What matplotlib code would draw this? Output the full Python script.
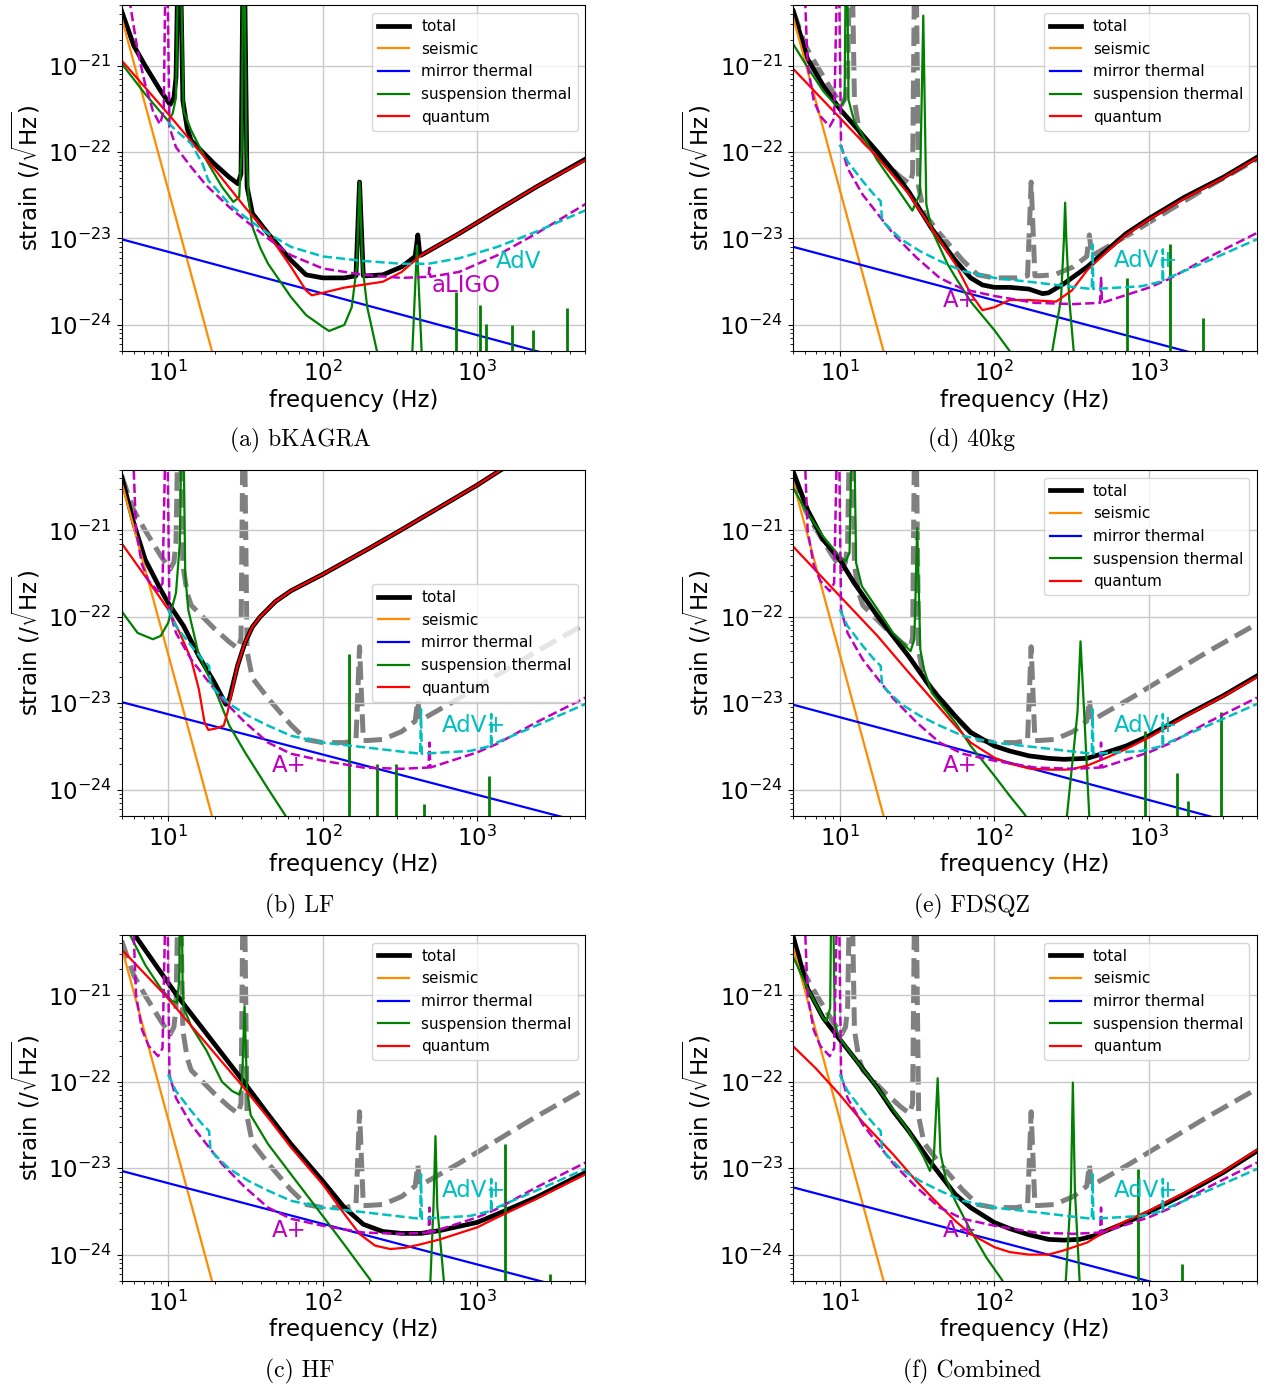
import matplotlib
matplotlib.use("Agg")
import matplotlib.pyplot as plt

# ---------------- shared curves ----------------
SEISMIC = [(5, 3.6e-21), (20, 3.8e-25)]

# bKAGRA (a) -- its total is also the grey reference in (b)-(f)
BK_TOTAL = [(5, 4.3e-21), (6.0, 1.7e-21), (7.1, 1.0e-21), (8.94, 5.1e-22), (10.3, 3.55e-22),
            (10.9, 4.3e-22), (11.24, 7.3e-22), (11.8, 1e-19), (12.45, 3.95e-22), (13.3, 1.86e-22),
            (14.1, 1.36e-22), (19.9, 7.3e-23), (24.9, 5.1e-23), (28.3, 4.3e-23), (29.6, 5.6e-23),
            (30.8, 1e-19), (32.4, 3.95e-23), (35.1, 1.95e-23), (44.3, 1.14e-23), (62.3, 5.6e-24),
            (78, 3.8e-24), (100, 3.5e-24), (138, 3.5e-24), (164, 3.7e-24), (173, 4.5e-23),
            (183, 3.7e-24), (194, 3.7e-24), (245, 3.8e-24), (324, 4.7e-24), (396, 6.2e-24),
            (412, 1.1e-23), (425, 6.4e-24), (433, 6.4e-24), (762, 1.14e-23), (1349, 2.12e-23),
            (2405, 3.95e-23), (5000, 8.3e-23)]
BK_QUANTUM = [(5, 1.15e-21), (10, 2.77e-22), (19.9, 6.4e-23), (31.4, 2.3e-23), (44.3, 1.14e-23),
              (62.3, 4.7e-24), (78, 2.5e-24), (85, 2.2e-24), (100, 2.35e-24), (138, 2.7e-24),
              (245, 3.16e-24), (324, 4.1e-24), (433, 6.4e-24), (762, 1.14e-23), (1349, 2.12e-23),
              (2405, 3.95e-23), (5000, 8.1e-23)]
BK_SUSP = [(5, 1.06e-21), (7.1, 4.7e-22), (8.94, 2.9e-22), (10, 2.3e-22), (10.7, 2.8e-22),
           (11.24, 4.3e-22), (11.8, 1e-19), (12.6, 3.0e-22), (14.1, 1.78e-22), (17.7, 8e-23),
           (22.3, 3.95e-23), (26.4, 2.65e-23), (28.8, 3.0e-23), (29.9, 1.05e-22), (30.8, 1e-19),
           (32.1, 1.05e-22), (33.2, 2.77e-23), (35.1, 1.36e-23), (39.4, 7.8e-24), (44.3, 5.1e-24),
           (62.3, 2.1e-24), (78, 1.3e-24), (100, 9.5e-25), (110, 8.5e-25), (138, 1.0e-24),
           (154, 1.6e-24), (166, 4.7e-24), (173, 4.5e-23), (181, 4.7e-24), (194, 1.6e-24),
           (224, 5e-25), (300, 2e-25), (380, 5e-25), (407, 8.3e-24), (436, 5e-25), (600, 1e-25)]
BK_PEAK_F = [728, 1042, 1143, 1664, 2277, 3803]
BK_PEAK_S = [2.4e-24, 1.7e-24, 1.02e-24, 1.0e-24, 8.7e-25, 1.55e-24]
BK_MIRROR = [(5, 9.8e-24), (5000, 3.5e-25)]

ALIGO = [(5.6, 6e-21), (6.35, 1.49e-21), (7.1, 6.1e-22), (7.97, 3.0e-22), (8.85, 2.1e-22),
         (9.36, 3.0e-22), (9.6, 1e-20), (9.9, 1e-20), (10.2, 1.94e-22), (11.24, 1.14e-22),
         (14.1, 6.7e-23), (17.7, 4.1e-23), (24.9, 2.3e-23), (31.4, 1.63e-23), (44.3, 1.0e-23),
         (62.3, 6.4e-24), (100, 4.5e-24), (183, 3.8e-24), (324, 3.5e-24), (483, 3.6e-24),
         (490, 4.6e-24), (497, 3.6e-24), (762, 4.1e-24), (1349, 6.4e-24), (2405, 1.14e-23),
         (5000, 2.5e-23)]
ADV = [(10, 2.2e-22), (11.24, 1.78e-22), (14.1, 1.25e-22), (16.7, 7.3e-23), (18.2, 4.7e-23),
       (19.9, 3.95e-23), (24.9, 2.5e-23), (31.4, 1.78e-23), (44.3, 1.14e-23), (62.3, 8.0e-24),
       (100, 6.2e-24), (183, 5.5e-24), (324, 5.1e-24), (483, 5.1e-24), (762, 5.9e-24),
       (1349, 8.0e-24), (2405, 1.2e-23), (5000, 2.12e-23)]
APLUS = [(5.9, 1e-20), (5.99, 5e-21), (6.2, 1.0e-21), (6.78, 4.0e-22), (7.49, 2.6e-22),
         (8.61, 1.98e-22), (9.2, 2.45e-22), (9.6, 1e-20), (9.9, 1e-20), (10.2, 1.2e-22),
         (11.24, 6.5e-23), (14.1, 3.2e-23), (17.7, 1.9e-23), (22.3, 1.12e-23), (31.4, 6.0e-24),
         (44.3, 3.5e-24), (62.3, 2.6e-24), (100, 2.16e-24), (183, 1.8e-24), (324, 1.74e-24),
         (483, 1.8e-24), (490, 3.5e-24), (497, 1.8e-24), (1000, 2.7e-24), (1349, 3.4e-24),
         (2405, 6.0e-24), (5000, 1.16e-23)]
ADVPLUS = [(10, 1.22e-22), (11.24, 7.8e-23), (14.1, 4.6e-23), (16.7, 3.2e-23), (18.4, 2.7e-23),
           (18.8, 1.6e-23), (19.9, 1.45e-23), (24.9, 9.8e-24), (33.2, 7.1e-24), (44.3, 5.5e-24),
           (62.3, 4.2e-24), (100, 3.5e-24), (183, 3.1e-24), (324, 2.75e-24), (427, 2.6e-24),
           (432, 8.5e-24), (437, 2.6e-24), (894, 2.8e-24), (1224, 3.2e-24), (1230, 7.5e-24),
           (1236, 3.3e-24), (2405, 5.5e-24), (5000, 9.8e-24)]

# ---------------- LF (b) ----------------
LF_TOTAL = [(5, 4.2e-21), (6.0, 1.2e-21), (7.1, 4.6e-22), (8.94, 2.07e-22), (10, 1.45e-22),
            (12.6, 7.8e-23), (15.8, 3.5e-23), (19.9, 1.74e-23), (23.6, 9.7e-24), (24.9, 1.12e-23),
            (28.1, 2.7e-23), (31.4, 5.0e-23), (35.0, 7.6e-23), (39.4, 1.0e-22), (49.4, 1.5e-22),
            (62.3, 2.0e-22), (100, 3.1e-22), (200, 6.2e-22), (318, 1.0e-21), (1000, 3.35e-21),
            (1416, 5.0e-21), (5000, 1.9e-20)]
LF_QUANTUM = [(5, 7.1e-22), (7.1, 2.95e-22), (10, 1.22e-22), (11.9, 6.5e-23), (14.1, 3.2e-23),
              (15.8, 1.45e-23), (17.2, 6.0e-24), (18.2, 4.9e-24), (20.4, 5.1e-24), (22.9, 5.5e-24),
              (24.2, 7.8e-24), (25.7, 1.3e-23), (28.1, 2.7e-23), (31.4, 5.0e-23), (35.0, 7.6e-23),
              (39.4, 1.0e-22), (49.4, 1.5e-22), (62.3, 2.0e-22), (100, 3.1e-22), (200, 6.2e-22),
              (318, 1.0e-21), (1000, 3.35e-21), (1416, 5.0e-21), (5000, 1.9e-20)]
LF_SUSP = [(5, 1.16e-22), (6.35, 6.5e-23), (7.97, 5.5e-23), (8.94, 6.0e-23), (10, 8.5e-23),
           (11.24, 1.9e-22), (11.9, 7.1e-22), (12.4, 1e-19), (12.9, 3.0e-22), (13.5, 1.2e-22),
           (15.8, 3.6e-23), (19.9, 1.5e-23), (24.9, 5.5e-24), (31.4, 2.7e-24), (44.3, 1.02e-24),
           (57, 5.1e-25), (80, 1.5e-25)]
LF_PEAK_F = [148, 226, 296, 449, 1196]
LF_PEAK_S = [3.7e-23, 2.0e-24, 2.0e-24, 6.8e-25, 1.45e-24]
LF_MIRROR = [(5, 1.03e-23), (5000, 4.1e-25)]

# ---------------- HF (c) ----------------
HF_TOTAL = [(5.5, 6.5e-21), (6.08, 5.0e-21), (11.4, 1.0e-21), (30.8, 1.0e-22), (44.3, 4.2e-23),
            (62.3, 1.9e-23), (100, 7.1e-24), (138, 3.5e-24), (183, 2.24e-24), (245, 1.85e-24),
            (324, 1.76e-24), (433, 1.76e-24), (573, 1.9e-24), (1000, 2.36e-24), (1349, 2.95e-24),
            (2405, 4.6e-24), (5000, 8.9e-24)]
HF_QUANTUM = [(5, 3.4e-21), (9.6, 1.0e-21), (28.7, 1.0e-22), (44.3, 3.85e-23), (62.3, 1.74e-23),
              (100, 6.5e-24), (138, 2.95e-24), (173, 1.73e-24), (218, 1.27e-24), (273, 1.16e-24),
              (343, 1.2e-24), (433, 1.32e-24), (573, 1.5e-24), (1000, 2.07e-24), (1349, 2.7e-24),
              (2405, 4.4e-24), (5000, 8.5e-24)]
HF_SUSP = [(5.5, 8e-21), (5.67, 5e-21), (7.1, 2.26e-21), (8.94, 1.21e-21), (10.6, 8.6e-22),
           (11.4, 8.2e-22), (11.8, 1.5e-21), (12.1, 1e-19), (12.4, 1.5e-21), (12.6, 7.2e-22),
           (14.1, 4.4e-22), (17.7, 2.3e-22), (22.3, 1.0e-22), (26.0, 7.8e-23), (28.9, 7.1e-23),
           (30.0, 9e-23), (31.2, 7.5e-22), (32.4, 8e-23), (34.2, 4.1e-23), (44.3, 1.9e-23),
           (62.3, 8.5e-24), (100, 2.8e-24), (138, 1.3e-24), (203, 5.1e-25), (300, 1.5e-25),
           (497, 5e-25), (520, 3.5e-24), (536, 2.35e-23), (551, 3.5e-24), (607, 5e-25),
           (800, 1.5e-25)]
HF_PEAK_F = [1510, 2960]
HF_PEAK_S = [1.9e-23, 5.9e-25]
HF_MIRROR = [(5, 9.3e-24), (5000, 3.6e-25)]

# ---------------- 40kg (d) ----------------
KG40_TOTAL = [(5, 4.3e-21), (6.19, 1.2e-21), (7.81, 5.9e-22), (10, 3.16e-22), (12.4, 2.04e-22),
              (17.55, 1.0e-22), (22.1, 6.1e-23), (27.9, 3.5e-23), (39.4, 1.3e-23), (55.8, 5.6e-24),
              (70.3, 3.5e-24), (83.7, 2.9e-24), (100, 2.72e-24), (125.5, 2.72e-24), (167, 2.6e-24),
              (205, 2.3e-24), (224, 2.35e-24), (282, 3.0e-24), (399, 4.7e-24), (533, 7.3e-24),
              (712, 1.14e-23), (1000, 1.7e-23), (1695, 3.0e-23), (3020, 5.1e-23), (5000, 8.7e-23)]
KG40_QUANTUM = [(5, 9.2e-22), (10, 2.5e-22), (17.55, 8.7e-23), (27.9, 3.3e-23), (39.4, 1.3e-23),
                (55.8, 5.1e-24), (70.3, 2.3e-24), (83.7, 1.48e-24), (100, 1.6e-24), (125.5, 1.94e-24),
                (167, 1.94e-24), (251, 1.86e-24), (317, 2.5e-24), (399, 4.3e-24), (533, 7.0e-24),
                (712, 1.1e-23), (1000, 1.66e-23), (1695, 2.9e-23), (3020, 5.0e-23), (5000, 8.5e-23)]
KG40_SUSP = [(5, 1.78e-21), (6.19, 9.6e-22), (7.81, 5.1e-22), (9.29, 3.6e-22), (10.12, 3.4e-22),
             (10.75, 4.0e-22), (11.04, 1e-19), (11.4, 4.0e-22), (12.4, 2.3e-22), (17.55, 8.0e-23),
             (24.8, 3.3e-23), (29.5, 2.1e-23), (33.0, 3.3e-23), (34.7, 3.8e-21), (36.3, 2.5e-23),
             (39.4, 1.25e-23), (49.7, 5.1e-24), (55.8, 3.6e-24), (70.3, 1.86e-24), (100, 8.7e-25),
             (125.5, 5e-25), (200, 1.5e-25), (237, 5e-25), (270, 2e-24), (282, 1.0e-23),
             (287, 2.6e-23), (292, 1.0e-23), (305, 2e-24), (326, 5e-25), (400, 1.5e-25)]
KG40_PEAK_F = [724, 1368, 2237]
KG40_PEAK_S = [3.45e-24, 8.7e-24, 1.2e-24]
KG40_MIRROR = [(5, 8.0e-24), (5000, 3.0e-25)]

# ---------------- FDSQZ (e) ----------------
FDSQZ_TOTAL = [(5, 4.8e-21), (6.19, 1.73e-21), (7.81, 7.8e-22), (10, 4.6e-22), (12.4, 2.46e-22),
               (17.55, 1.02e-22), (22.1, 6.0e-23), (27.9, 3.5e-23), (39.4, 1.45e-23), (55.8, 7.1e-24),
               (70.3, 4.6e-24), (100, 3.2e-24), (125.5, 2.8e-24), (167, 2.46e-24), (224, 2.3e-24),
               (282, 2.24e-24), (399, 2.3e-24), (533, 2.7e-24), (712, 3.2e-24), (1000, 4.2e-24),
               (1695, 7.1e-24), (3020, 1.22e-23), (5000, 2.07e-23)]
FDSQZ_QUANTUM = [(5, 6.5e-22), (10, 1.74e-22), (17.55, 6.0e-23), (27.9, 2.27e-23), (39.4, 1.12e-23),
                 (55.8, 5.5e-24), (70.3, 3.5e-24), (100, 2.34e-24), (125.5, 2.0e-24), (167, 1.76e-24),
                 (224, 1.7e-24), (282, 1.7e-24), (317, 1.72e-24), (399, 1.9e-24), (533, 2.34e-24),
                 (712, 2.95e-24), (1000, 4.0e-24), (1695, 6.9e-24), (3020, 1.2e-23), (5000, 2.0e-23)]
FDSQZ_SUSP = [(5, 3.1e-21), (6.19, 1.58e-21), (7.81, 8.5e-22), (10, 5.0e-22), (10.9, 4.4e-22),
              (11.57, 5.5e-22), (12.2, 1e-19), (12.76, 4.2e-22), (13.9, 2.26e-22), (17.55, 1.22e-22),
              (22.1, 6.5e-23), (28.7, 4.0e-23), (30.4, 5.5e-23), (31.7, 1.06e-21), (33.2, 4.2e-23),
              (35.1, 2.45e-23), (39.4, 1.32e-23), (55.8, 6.0e-24), (70.3, 3.2e-24), (100, 1.45e-24),
              (125.5, 8.5e-25), (158, 5.1e-25), (200, 2e-25), (295, 5e-25), (345, 7.8e-24),
              (361, 5.2e-23), (381, 7.8e-24), (411, 5e-25), (500, 2e-25)]
FDSQZ_PEAK_F = [950, 1528, 1796, 2937]
FDSQZ_PEAK_S = [4.8e-24, 1.55e-24, 7.4e-25, 7.9e-24]
FDSQZ_MIRROR = [(5, 9.6e-24), (5000, 3.5e-25)]

# ---------------- Combined (f) ----------------
COMB_TOTAL = [(5, 4.8e-21), (6.19, 1.2e-21), (7.81, 5.5e-22), (10, 3.1e-22), (12.4, 1.9e-22),
              (17.55, 8.5e-23), (22.1, 4.6e-23), (27.9, 2.7e-23), (39.4, 1.12e-23), (55.8, 5.0e-24),
              (70.3, 3.5e-24), (100, 2.35e-24), (125.5, 2.0e-24), (167, 1.7e-24), (224, 1.5e-24),
              (282, 1.47e-24), (356, 1.5e-24), (448, 1.66e-24), (533, 1.9e-24), (712, 2.35e-24),
              (1000, 3.1e-24), (1695, 5.0e-24), (3020, 8.9e-24), (5000, 1.58e-23)]
COMB_QUANTUM = [(5, 2.57e-22), (6.95, 1.45e-22), (10, 7.1e-23), (13.9, 3.5e-23), (22.1, 1.45e-23),
                (31.3, 7.1e-24), (39.4, 4.6e-24), (55.8, 2.46e-24), (70.3, 1.73e-24), (100, 1.22e-24),
                (125.5, 1.07e-24), (167, 1.0e-24), (224, 1.0e-24), (282, 1.12e-24), (399, 1.38e-24),
                (533, 1.9e-24), (712, 2.46e-24), (1000, 3.2e-24), (1695, 5.2e-24), (3020, 9.1e-24),
                (5000, 1.63e-23)]
COMB_SUSP = [(5, 2.8e-21), (6.19, 1.2e-21), (7.81, 5.5e-22), (8.18, 5.0e-22), (8.67, 7.1e-22),
             (8.92, 1e-19), (9.29, 4.6e-22), (10, 3.2e-22), (12.4, 1.9e-22), (17.55, 8.5e-23),
             (22.1, 4.8e-23), (27.9, 2.7e-23), (35.1, 1.32e-23), (38.3, 9.3e-24), (40.6, 1.32e-23),
             (43.0, 1.1e-22), (44.8, 1.5e-23), (48.3, 7.8e-24), (55.8, 4.2e-24), (70.3, 1.9e-24),
             (88.6, 9.3e-25), (112, 5.1e-25), (160, 1.5e-25), (290, 5e-25), (313, 5.5e-24),
             (322, 9.8e-23), (332, 5.5e-24), (356, 5e-25), (450, 1.5e-25)]
COMB_PEAK_F = [847, 1629]
COMB_PEAK_S = [9.8e-24, 7.8e-25]
COMB_MIRROR = [(5, 6.0e-24), (5000, 2.3e-25)]

CAPTIONS = ["(a) bKAGRA", "(b) LF", "(c) HF", "(d) 40kg", "(e) FDSQZ", "(f) Combined"]
X_TICKS = [10, 100, 1000]
Y_TICKS = [1e-24, 1e-23, 1e-22, 1e-21]

PANELS = [
    # (col, row, total, quantum, susp, peaks_f, peaks_s, mirror, legend loc)
    (0, 0, BK_TOTAL, BK_QUANTUM, BK_SUSP, BK_PEAK_F, BK_PEAK_S, BK_MIRROR, "upper right"),
    (0, 1, LF_TOTAL, LF_QUANTUM, LF_SUSP, LF_PEAK_F, LF_PEAK_S, LF_MIRROR, "center right"),
    (0, 2, HF_TOTAL, HF_QUANTUM, HF_SUSP, HF_PEAK_F, HF_PEAK_S, HF_MIRROR, "upper right"),
    (1, 0, KG40_TOTAL, KG40_QUANTUM, KG40_SUSP, KG40_PEAK_F, KG40_PEAK_S, KG40_MIRROR, "upper right"),
    (1, 1, FDSQZ_TOTAL, FDSQZ_QUANTUM, FDSQZ_SUSP, FDSQZ_PEAK_F, FDSQZ_PEAK_S, FDSQZ_MIRROR, "upper right"),
    (1, 2, COMB_TOTAL, COMB_QUANTUM, COMB_SUSP, COMB_PEAK_F, COMB_PEAK_S, COMB_MIRROR, "upper right"),
]


def xy(pts):
    return [p[0] for p in pts], [p[1] for p in pts]


W, H = 1269, 1388
fig = plt.figure(figsize=(W / 100, H / 100), dpi=100)

COL_X = [121.6, 793.2]
ROW_TOP = [5.3, 470.0, 935.0]
AX_W, AX_H = 463.8, 345.6
CAP_X = [300, 972]
CAP_Y = [440, 906, 1371]

FS = 16.5

for i, (col, row, total, quantum, susp, pf, ps, mirror, loc) in enumerate(PANELS):
    x0 = COL_X[col] / W
    y0 = 1 - (ROW_TOP[row] + AX_H) / H
    ax = fig.add_axes([x0, y0, AX_W / W, AX_H / H])
    ax.set_xscale("log")
    ax.set_yscale("log")

    is_bk = (i == 0)
    if not is_bk:
        ax.plot(*xy(BK_TOTAL), "--", color="gray", lw=3.6, zorder=1.5)

    ax.plot(*xy(total), color="black", lw=3.4, label="total", zorder=2)
    ax.plot(*xy(SEISMIC), color="darkorange", lw=1.6, label="seismic", zorder=2.1)
    ax.plot(*xy(mirror), color="blue", lw=1.6, label="mirror thermal", zorder=2.1)
    ax.plot(*xy(susp), color="green", lw=1.6, label="suspension thermal", zorder=2.2)
    ax.vlines(pf, 1e-26, ps, color="green", lw=2.0, zorder=2.2)
    ax.plot(*xy(quantum), color="red", lw=1.6, label="quantum", zorder=2.3)

    if is_bk:
        ax.plot(*xy(ALIGO), "--", color="m", lw=1.8, zorder=2.4)
        ax.plot(*xy(ADV), "--", color="c", lw=1.8, zorder=2.4)
        ax.text(1325, 5.4e-24, "AdV", color="c", fontsize=FS, ha="left", va="center")
        ax.text(506, 2.85e-24, "aLIGO", color="m", fontsize=FS, ha="left", va="center")
    else:
        ax.plot(*xy(APLUS), "--", color="m", lw=1.8, zorder=2.4)
        ax.plot(*xy(ADVPLUS), "--", color="c", lw=1.8, zorder=2.4)
        ax.text(590, 5.5e-24, "AdV+", color="c", fontsize=FS, ha="left", va="center")
        ax.text(46.7, 1.9e-24, "A+", color="m", fontsize=FS, ha="left", va="center")

    ax.set_xlim(5, 5000)
    ax.set_ylim(5e-25, 5e-21)
    ax.set_xticks(X_TICKS)
    ax.set_yticks(Y_TICKS)
    ax.grid(True, which="major", color="#c8c8c8", lw=1.0)
    ax.tick_params(labelsize=FS)
    ax.set_xlabel("frequency (Hz)", fontsize=FS, labelpad=2)
    ax.set_ylabel(r"strain ($/\sqrt{\mathrm{Hz}}$)", fontsize=FS)
    ax.legend(loc=loc, fontsize=11)

    fig.text(CAP_X[col] / W, 1 - CAP_Y[row] / H, CAPTIONS[i], ha="center", va="center",
             fontsize=17, family="cmr10")

fig.savefig("out.png", dpi=100)
